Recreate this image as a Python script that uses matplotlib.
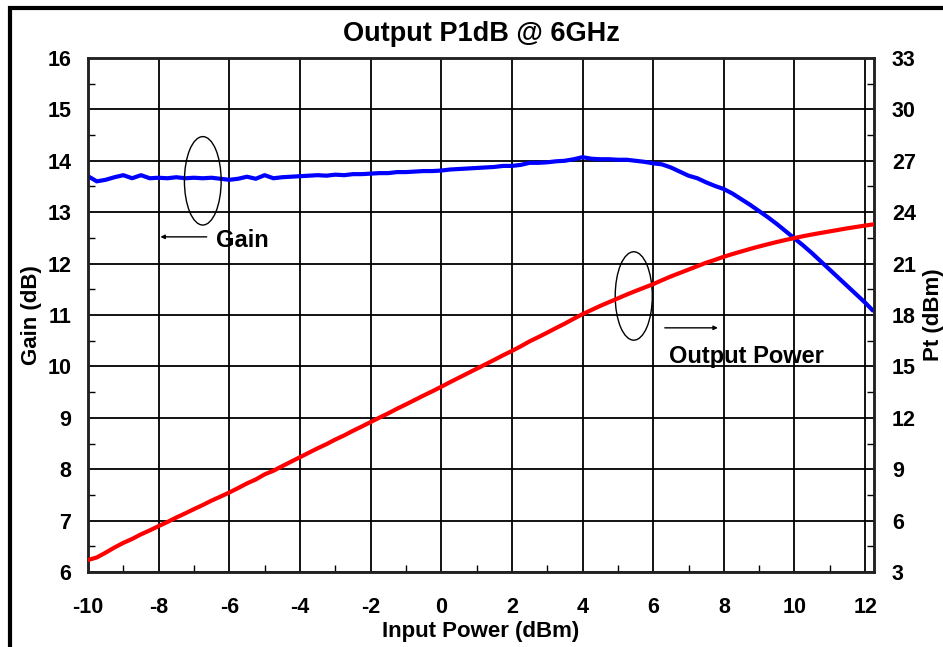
import numpy as np
import matplotlib
matplotlib.use("Agg")
from matplotlib import pyplot as plt
from matplotlib.patches import Ellipse, Rectangle

plt.rcParams['font.family'] = ['Liberation Sans', 'DejaVu Sans']
plt.rcParams['font.weight'] = 'bold'
plt.rcParams['axes.unicode_minus'] = False

# input power (dBm)
pin = [-10, -9.75, -9.5, -9.25, -9, -8.75, -8.5, -8.25, -8, -7.75, -7.5, -7.25, -7, -6.75, -6.5, -6.25,
       -6, -5.75, -5.5, -5.25, -5, -4.75, -4.5, -4.25, -4, -3.75, -3.5, -3.25, -3, -2.75, -2.5, -2.25,
       -2, -1.75, -1.5, -1.25, -1, -0.75, -0.5, -0.25, 0, 0.25, 0.5, 0.75, 1, 1.25, 1.5, 1.75,
       2, 2.25, 2.5, 2.75, 3, 3.25, 3.5, 3.75, 4, 4.25, 4.5, 4.75, 5, 5.25, 5.5, 5.75,
       6, 6.25, 6.5, 6.75, 7, 7.25, 7.5, 7.75, 8, 8.25, 8.5, 8.75, 9, 9.25, 9.5, 9.75,
       10, 10.25, 10.5, 10.75, 11, 11.25, 11.5, 11.75, 12, 12.2]

# gain (dB)
gain = [13.70, 13.60, 13.63, 13.68, 13.72, 13.66, 13.72, 13.66, 13.67, 13.66, 13.68, 13.66, 13.67, 13.66, 13.67, 13.65,
        13.63, 13.65, 13.69, 13.65, 13.72, 13.66, 13.68, 13.69, 13.70, 13.71, 13.72, 13.71, 13.73, 13.72, 13.74, 13.74,
        13.75, 13.76, 13.76, 13.78, 13.78, 13.79, 13.80, 13.80, 13.81, 13.83, 13.84, 13.85, 13.86, 13.87, 13.88, 13.90,
        13.90, 13.92, 13.96, 13.96, 13.97, 13.99, 14.00, 14.03, 14.07, 14.04, 14.03, 14.03, 14.02, 14.02, 14.00, 13.98,
        13.95, 13.93, 13.87, 13.79, 13.71, 13.66, 13.58, 13.51, 13.45, 13.36, 13.25, 13.14, 13.02, 12.90, 12.77, 12.63,
        12.49, 12.35, 12.20, 12.04, 11.88, 11.72, 11.56, 11.40, 11.24, 11.10]

# output power (dBm)
pout = [3.70, 3.85, 4.13, 4.43, 4.70, 4.93, 5.20, 5.43, 5.68, 5.92, 6.18, 6.42, 6.67, 6.91, 7.17, 7.40,
        7.64, 7.90, 8.17, 8.40, 8.70, 8.91, 9.18, 9.44, 9.70, 9.96, 10.22, 10.46, 10.73, 10.97, 11.24, 11.49,
        11.75, 12.01, 12.26, 12.53, 12.78, 13.04, 13.30, 13.55, 13.81, 14.08, 14.34, 14.60, 14.86, 15.12, 15.38, 15.65,
        15.90, 16.17, 16.46, 16.71, 16.97, 17.24, 17.50, 17.78, 18.05, 18.29, 18.53, 18.75, 18.97, 19.19, 19.40, 19.60,
        19.80, 20.03, 20.25, 20.45, 20.65, 20.85, 21.05, 21.22, 21.40, 21.56, 21.71, 21.86, 22.00, 22.13, 22.26, 22.38,
        22.49, 22.60, 22.70, 22.79, 22.88, 22.97, 23.06, 23.14, 23.22, 23.28]

xticks = [-10, -8, -6, -4, -2, 0, 2, 4, 6, 8, 10, 12]
gticks = [6, 7, 8, 9, 10, 11, 12, 13, 14, 15, 16]
pticks = [3, 6, 9, 12, 15, 18, 21, 24, 27, 30, 33]

fig = plt.figure(figsize=(9.43, 6.47), dpi=100)
ax = fig.add_axes([0.0933, 0.1159, 0.8335, 0.7945])
ax2 = ax.twinx()

ax.set_xlim(-10, 12.25)
ax.set_ylim(6, 16)
ax2.set_ylim(3, 33)

ax.set_xticks(xticks)
ax.set_xticks(np.arange(-9, 13, 2), minor=True)
ax.set_yticks(gticks)
ax.set_yticks(np.arange(6.5, 16, 1), minor=True)
ax2.set_yticks(pticks)
ax2.set_yticks(np.arange(4.5, 33, 3), minor=True)

ax.grid(True, which='major', color='black', lw=1.3)
ax.tick_params(axis='x', which='major', length=0, labelsize=15.5, pad=18)
ax.tick_params(axis='y', which='major', length=0, labelsize=15.5, pad=12)
ax.tick_params(which='minor', direction='in', length=5, width=1, bottom=True, left=True)
ax2.tick_params(which='major', length=0, labelsize=15.5, pad=13)
ax2.tick_params(which='minor', direction='in', length=5, width=1)
for a in (ax, ax2):
    for s in a.spines.values():
        s.set_linewidth(1.8)
        s.set_color('#222222')

ax.plot(pin, gain, color='#0000ff', lw=3, zorder=5)
ax2.plot(pin, pout, color='#ff0000', lw=3, zorder=5)

ax.set_title('Output P1dB @ 6GHz', fontsize=19.5, fontweight='bold', pad=12)
ax.set_xlabel('Input Power (dBm)', fontsize=16, fontweight='bold', labelpad=2)
ax.set_ylabel('Gain (dB)', fontsize=16, fontweight='bold', labelpad=4)
ax2.set_ylabel('Pt (dBm)', fontsize=16, fontweight='bold', labelpad=5)

# annotations
ax.add_patch(Ellipse((-6.75, 13.61), 1.04, 1.72, fill=False, lw=1, ec='black', zorder=6))
ax.add_patch(Ellipse((5.45, 11.37), 1.05, 1.72, fill=False, lw=1, ec='black', zorder=6))
ax.annotate('', xy=(-8.03, 12.52), xytext=(-6.56, 12.52),
            arrowprops=dict(arrowstyle='-|>', lw=1, color='black', mutation_scale=6), zorder=6)
ax.annotate('', xy=(7.91, 10.75), xytext=(6.25, 10.75),
            arrowprops=dict(arrowstyle='-|>', lw=1, color='black', mutation_scale=6), zorder=6)
ax.text(-6.39, 12.44, 'Gain', fontsize=17, fontweight='bold', va='center', ha='left', zorder=7)
ax.text(6.45, 10.2, 'Output Power', fontsize=17, fontweight='bold', va='center', ha='left', zorder=7)

# outer frame (right and bottom edges lie outside the picture)
fig.patches.append(Rectangle((10 / 943, -0.1), 1.0, 1.1 - 8 / 647, transform=fig.transFigure,
                             fill=False, lw=3, ec='black'))

fig.savefig('out.png', dpi=100)
